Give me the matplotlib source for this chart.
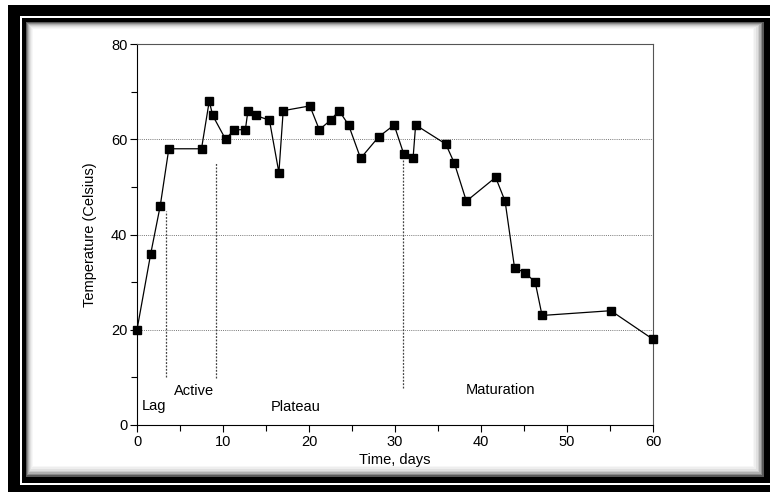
import matplotlib
matplotlib.use("Agg")
import matplotlib.pyplot as plt
from matplotlib.patches import Rectangle
from matplotlib.ticker import MultipleLocator

plt.rcParams["font.family"] = ["Liberation Sans", "DejaVu Sans"]

# temperature readings
days = [0, 1.6, 2.7, 3.7, 7.5, 8.4, 8.8, 10.3, 11.3, 12.6, 12.9, 13.8, 15.4,
        16.5, 17.0, 20.1, 21.2, 22.5, 23.5, 24.6, 26.0, 28.1, 29.9, 31.0,
        32.1, 32.4, 35.9, 36.9, 38.3, 41.7, 42.8, 43.9, 45.1, 46.3, 47.1,
        55.1, 60.0]
temp = [20, 36, 46, 58, 58, 68, 65, 60, 62, 62, 66, 65, 64,
        53, 66, 67, 62, 64, 66, 63, 56, 60.5, 63, 57,
        56, 63, 59, 55, 47, 52, 47, 33, 32, 30, 23,
        24, 18]

# phase boundaries (day, top of dotted line, bottom of dotted line)
bound_x = [3.4, 9.2, 30.9]
bound_top = [45, 55, 55.7]
bound_bot = [10.1, 9.8, 7.7]

phase_names = ["Lag", "Active", "Plateau", "Maturation"]
phase_x = [0.6, 4.3, 15.6, 38.2]
phase_y = [4.0, 7.2, 3.7, 7.3]

W, H = 770, 492
fig = plt.figure(figsize=(W / 100, H / 100), dpi=100)
fig.patch.set_facecolor("white")


def px_rect(x0, y0, x1, y1, color, z):
    # rectangle in pixel coordinates, y measured from the top
    r = Rectangle((x0 / W, 1 - y1 / H), (x1 - x0) / W, (y1 - y0) / H,
                  transform=fig.transFigure, facecolor=color,
                  edgecolor="none", zorder=z)
    fig.patches.append(r)


# picture frame: black border, thin white line, black border, soft shadow
px_rect(8, 5, 780, 500, "black", -10)
px_rect(20, 16, 780, 485, "white", -9)
px_rect(22, 18, 780, 483, "black", -8)
shades = ["#5a5a5a", "#8a8a8a", "#b0b0b0", "#cccccc", "#e0e0e0", "#eeeeee", "#f7f7f7", "white"]
for i, c in enumerate(shades):
    px_rect(26 + i, 22 + i, 764 - 1.6 * i, 477 - 1.6 * i, c, -7 + i * 0.1)

ax = fig.add_axes([137 / W, 1 - 425 / H, 516 / W, 381 / H])
ax.set_facecolor("none")

ax.plot(days, temp, color="black", lw=0.9, marker="s", ms=6.3,
        mfc="black", mec="black", zorder=3, clip_on=False)

for yy in [20, 40, 60]:
    ax.axhline(yy, color="#777777", lw=0.7, ls=(0, (1, 1.2)), zorder=1)
for bx, bt, bb in zip(bound_x, bound_top, bound_bot):
    ax.plot([bx, bx], [bb, bt], color="#444444", lw=0.9, ls=(0, (1.5, 1.2)), zorder=2)

for name, tx, ty in zip(phase_names, phase_x, phase_y):
    ax.text(tx, ty, name, fontsize=10.5, ha="left", va="center")

ax.set_xlim(0, 60)
ax.set_ylim(0, 80)
ax.xaxis.set_major_locator(MultipleLocator(10))
ax.xaxis.set_minor_locator(MultipleLocator(5))
ax.yaxis.set_major_locator(MultipleLocator(20))
ax.yaxis.set_minor_locator(MultipleLocator(10))
ax.tick_params(which="both", direction="out", width=0.8, labelsize=10.5, pad=2)
ax.tick_params(which="major", length=5)
ax.tick_params(which="minor", length=4)
for s in ax.spines.values():
    s.set_linewidth(0.8)
ax.spines["top"].set_color("#555555")
ax.spines["right"].set_color("#555555")

ax.set_xlabel("Time, days", fontsize=10.5, labelpad=3)
ax.set_ylabel("Temperature (Celsius)", fontsize=10.5, labelpad=10)

fig.savefig("out.png", dpi=100)
